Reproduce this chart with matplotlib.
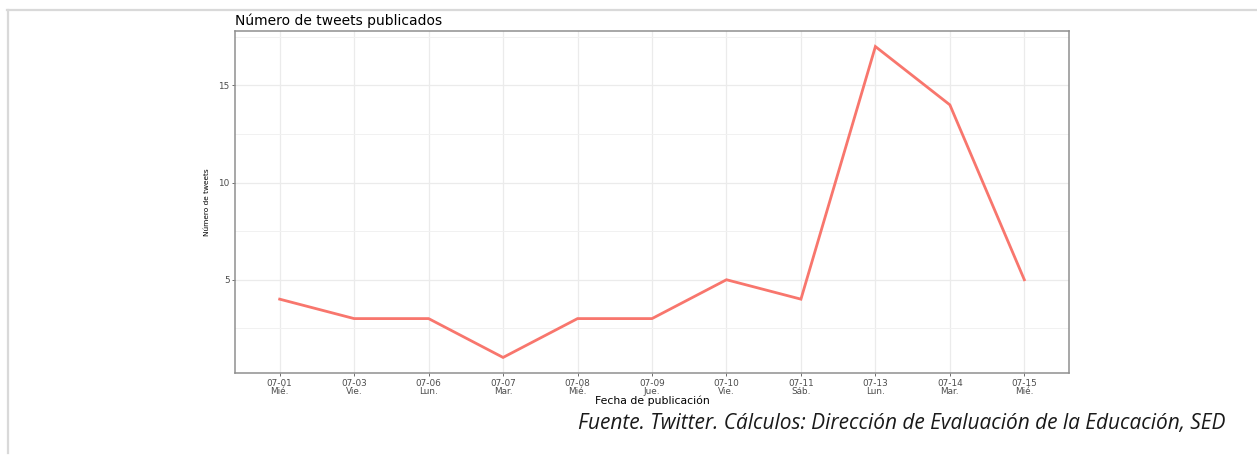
import matplotlib
matplotlib.use("Agg")
import matplotlib.pyplot as plt
from matplotlib.lines import Line2D
from matplotlib.ticker import MultipleLocator

fechas = ["07-01", "07-03", "07-06", "07-07", "07-08", "07-09", "07-10", "07-11", "07-13", "07-14", "07-15"]
dias = ["Mié.", "Vie.", "Lun.", "Mar.", "Mié.", "Jue.", "Vie.", "Sáb.", "Lun.", "Mar.", "Mié."]
tweets = [4, 3, 3, 1, 3, 3, 5, 4, 17, 14, 5]

titulo = "Número de tweets publicados"
etiqueta_x = "Fecha de publicación"
etiqueta_y = "Número de tweets"
fuente = "Fuente. Twitter. Cálculos: Dirección de Evaluación de la Educación, SED"

W, H = 1257, 455
fig = plt.figure(figsize=(W / 100, H / 100), dpi=100)
fig.patch.set_facecolor("white")

# document frame lines
fig.add_artist(Line2D([7 / W, 1.0], [1 - 9.5 / H, 1 - 9.5 / H], color="#d9d9d9", lw=1.6, transform=fig.transFigure))
fig.add_artist(Line2D([7.5 / W, 7.5 / W], [1 - 9.5 / H, 1 - 453 / H], color="#d9d9d9", lw=1.6, transform=fig.transFigure))

ax = fig.add_axes([235 / W, 1 - 373 / H, (1069 - 235) / W, (373 - 31) / H])
x = list(range(len(fechas)))
ax.plot(x, tweets, color="#F8766D", lw=2.0, solid_joinstyle="miter", zorder=3)

n = len(fechas)
ax.set_xlim(-0.6, n - 1 + 0.6)
ymin, ymax = min(tweets), max(tweets)
pad = 0.05 * (ymax - ymin)
ax.set_ylim(ymin - pad, ymax + pad)

ax.set_xticks(x)
ax.set_xticklabels([f"{f}\n{d}" for f, d in zip(fechas, dias)], linespacing=0.85)
ax.yaxis.set_major_locator(MultipleLocator(5))
ax.yaxis.set_minor_locator(MultipleLocator(2.5))
ax.tick_params(axis="both", which="major", length=2.5, width=0.6, color="#555555",
               labelsize=6.4, labelcolor="#4d4d4d", pad=1.5)
ax.tick_params(axis="y", which="minor", length=0)

ax.grid(True, which="major", color="#ebebeb", lw=0.9, zorder=0)
ax.grid(True, which="minor", axis="y", color="#f1f1f1", lw=0.7, zorder=0)
ax.set_axisbelow(True)
for s in ax.spines.values():
    s.set_color("#8f8f8f")
    s.set_linewidth(1.1)

ax.set_title(titulo, loc="left", fontsize=10, color="black", pad=4, family="DejaVu Sans")
ax.set_xlabel(etiqueta_x, fontsize=7.8, labelpad=0, family="DejaVu Sans")
ax.set_ylabel(etiqueta_y, fontsize=5.3, labelpad=6, family="DejaVu Sans")

fig.text(1225 / W, 1 - 424 / H, fuente, ha="right", va="center", fontsize=15,
         style="italic", family="Open Sans", color="#1a1a1a")

fig.savefig("out.png", dpi=100, facecolor="white")
